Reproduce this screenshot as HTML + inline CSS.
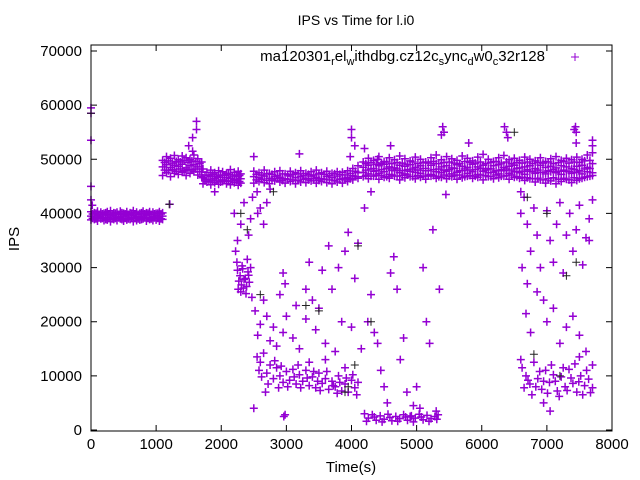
<!DOCTYPE html>
<html><head><meta charset="utf-8"><style>
html,body{margin:0;padding:0;background:#fff;}
svg{display:block;font-family:"Liberation Sans",sans-serif;}
</style></head><body>
<svg id="chart" width="640" height="480" viewBox="0 0 640 480">
<rect x="0" y="0" width="640" height="480" fill="#fff"/>
<text x="356" y="25" font-size="14" text-anchor="middle">IPS vs Time for l.i0</text>
<text x="19" y="239" font-size="15" text-anchor="middle" transform="rotate(-90 19 239)">IPS</text>
<text x="351" y="472" font-size="15" text-anchor="middle">Time(s)</text>
<g id="ticks"></g>
<g id="marks"></g>
<rect x="91" y="45" width="521" height="386" fill="none" stroke="#000" stroke-width="1"/>
<g>
<text x="545" y="61" font-size="15" text-anchor="end">ma120301<tspan font-size="11" dy="4">r</tspan><tspan dy="-4">el</tspan><tspan font-size="11" dy="4">w</tspan><tspan dy="-4">ithdbg.cz12c</tspan><tspan font-size="11" dy="4">s</tspan><tspan dy="-4">ync</tspan><tspan font-size="11" dy="4">d</tspan><tspan dy="-4">w0</tspan><tspan font-size="11" dy="4">c</tspan><tspan dy="-4">32r128</tspan></text>
<path d="M571 57h8M575 53v8" stroke="#9400d3" stroke-width="1"/>
</g>
</svg>
<script>
const xTicks=[0,1000,2000,3000,4000,5000,6000,7000,8000];
const yTicks=[0,10000,20000,30000,40000,50000,60000,70000];
const bandA_t=[0,50,100,150,200,250,300,350,400,450,500,550,600,650,700,750,800,850,900,950,1000,1050,1100];
const bandA_v1=[40300,40100,40400,40200,40000,40300,40500,40100,40200,40400,40000,40300,40100,40500,40200,40000,40400,40100,40300,40200,40000,40300,40100];
const bandA_v2=[39500,39300,39600,39400,39700,39200,39500,39600,39300,39400,39700,39500,39200,39600,39400,39300,39500,39700,39200,39400,39600,39300,39500];
const bandA_v3=[38800,38900,38600,39000,38700,38800,38500,38900,38700,39000,38600,38800,38900,38500,38700,38800,39000,38600,38900,38700,38800,38600,38900];
const bandA_t2=[25,75,125,175,225,275,325,375,425,475,525,575,625,675,725,775,825,875,925,975,1025,1075];
const bandA_v4=[39900,40000,39800,39900,40100,39800,39900,40000,39800,40100,39900,39800,40000,39900,39800,40100,39900,40000,39800,39900,40000,39900];
const bandA_v5=[39100,39000,39200,39100,38900,39200,39000,39100,39200,38900,39100,39000,39200,39100,39000,38900,39200,39100,39000,39200,39100,39000];
const bandB_t=[1100,1160,1220,1280,1340,1400,1460,1520,1580,1640,1700];
const bandB_v1=[49800,50500,50200,50700,49900,50600,50300,50000,50800,50100,49500];
const bandB_v2=[48600,49000,48500,48900,48700,49100,48400,48800,49000,48600,48200];
const bandB_v3=[47000,47500,46800,47400,47200,47600,47000,47400,47700,47100,46800];
const bandB_t2=[1130,1190,1250,1310,1370,1430,1490,1550,1610,1670];
const bandB_v4=[49400,49700,49300,49600,49500,49800,49400,49700,49600,49200];
const bandB_v5=[48000,47900,48100,47800,48200,47900,48100,48000,48200,47700];
const bandC_t=[1720,1780,1840,1900,1960,2020,2080,2140,2200,2260,2300];
const bandC_v1=[48200,47600,48000,47500,47900,47700,47400,48100,47600,47800,47300];
const bandC_v2=[46600,46300,46800,46400,46700,46200,46600,46500,46300,46800,46400];
const bandC_v3=[45500,45800,45300,45700,45400,45900,45500,45300,45700,45200,45600];
const bandC_t2=[1750,1810,1870,1930,1990,2050,2110,2170,2230,2280];
const bandC_v4=[47100,47000,47200,46900,47100,47000,47200,46900,47100,47000];
const bandC_v5=[46000,45900,46100,46000,45800,46100,45900,46000,46100,45900];
const bandD_t=[2500,2580,2660,2740,2820,2900,2980,3060,3140,3220,3300,3380,3460,3540,3620,3700,3780,3860,3940,4020,4100];
const bandD_v1=[47800,47500,48000,47400,47700,47900,47300,47800,47500,47900,47400,47700,48000,47500,47800,47400,47700,47600,47900,48300,48800];
const bandD_v2=[46800,46600,46900,46500,46800,46700,46400,46900,46600,46800,46500,46900,46700,46400,46800,46600,46900,46500,46700,47000,47500];
const bandD_v3=[45600,45900,45700,45500,46000,45800,45600,45900,45500,45800,45700,46000,45600,45900,45700,45500,45800,45600,45900,46200,46500];
const bandD_t2=[2540,2620,2700,2780,2860,2940,3020,3100,3180,3260,3340,3420,3500,3580,3660,3740,3820,3900,3980,4060];
const bandD_v4=[47200,47100,47300,47200,47000,47300,47100,47200,47300,47000,47200,47100,47300,47200,47000,47300,47200,47100,47400,47800];
const bandD_v5=[46200,46300,46100,46200,46400,46100,46300,46200,46100,46300,46200,46400,46100,46300,46200,46100,46300,46200,46400,46800];
const bandE_t=[4180,4260,4340,4420,4500,4580,4660,4740,4820,4900,4980,5060,5140,5220,5300,5380,5460,5540,5620,5700,5780,5860,5940,6020,6100,6180,6260,6340,6420,6500,6580,6660,6740,6820,6900,6980,7060,7140,7220,7300,7380,7460,7540,7620,7700];
const bandE_v1=[49500,50200,49800,50500,49600,50300,49900,50600,50100,49700,50400,50000,49500,50300,50800,49900,50500,50100,49800,50600,50200,49700,50400,50900,50000,49600,50300,50700,49900,50200,49800,50400,50000,49700,50300,49600,50100,50500,49800,50200,49900,50400,50000,50800,51200];
const bandE_v2=[48500,48900,48300,48800,49100,48600,48400,48900,48700,49000,48500,48800,48300,48900,49200,48600,48800,48400,49000,48700,48500,49100,48600,48900,48300,48800,49000,48500,48700,48900,48400,48600,48800,48300,48900,48500,48700,48400,48800,48600,48300,48700,48900,48500,49200];
const bandE_v3=[47600,47300,47800,47400,47700,47200,47900,47500,47300,47800,47600,47400,47900,47200,47700,47500,47800,47300,47600,47900,47400,47700,47200,47800,47500,47600,47300,47900,47400,47700,47500,47200,47800,47400,47600,47300,47700,47500,47200,47800,47400,47600,47300,47700,47500];
const bandE_v4=[46800,46400,46900,46300,46700,46500,46900,46200,46600,46800,46400,46700,46300,46900,46500,46700,46400,46800,46300,46600,46900,46500,46700,46200,46800,46400,46600,46900,46300,46700,46500,46100,46400,45800,46200,45600,46000,45500,45900,46300,45700,46100,46500,46800,47000];
const bandE_t2=[4220,4300,4380,4460,4540,4620,4700,4780,4860,4940,5020,5100,5180,5260,5340,5420,5500,5580,5660,5740,5820,5900,5980,6060,6140,6220,6300,6380,6460,6540,6620,6700,6780,6860,6940,7020,7100,7180,7260,7340,7420,7500,7580,7660];
const bandE_v5=[49200,49400,49100,49300,49500,49200,49400,49300,49100,49500,49200,49400,49300,49600,49200,49400,49500,49300,49200,49600,49400,49300,49500,49200,49400,49600,49300,49500,49200,49400,49300,49500,49200,49400,49300,49500,49200,49400,49600,49300,49500,49400,49700,49800];
const bandE_v6=[48000,48200,47900,48100,48300,48000,48200,47900,48100,48200,48000,48300,47900,48100,48200,48000,48100,48300,47900,48200,48000,48100,48300,48000,48200,47900,48100,48200,48000,48300,47800,48100,47700,48000,47600,47900,48100,47800,48000,47700,48100,47900,48200,48300];
const bandE_v7=[47000,46900,47100,47000,46800,47100,46900,47000,47100,46800,47000,46900,47100,47000,46800,47100,46900,47000,47100,46800,47000,46900,47100,47000,46800,47100,46900,47000,47100,46800,46700,46600,46400,46500,46200,46400,46600,46300,46500,46200,46600,46400,46700,46900];
const clusterF=[[2250,29500],[2290,28500],[2330,29800],[2370,28000],[2410,29200],[2270,27500],[2310,26800],[2350,27800],[2390,26500],[2430,27300],[2260,26000],[2300,25500],[2340,26200],[2380,25200],[2420,28600],[2450,30000],[2240,31000],[2400,31500],[2470,24500],[2320,30300]];
const clusterG=[[2550,13500],[2600,12500],[2650,14200],[2580,11000],[2700,10500],[2750,12000],[2800,9500],[2850,11500],[2900,10000],[2950,8800],[3000,10800],[3050,9200],[3100,11200],[3150,8500],[3200,10200],[3250,9000],[3300,11000],[3350,8200],[3400,9800],[3450,7800],[3500,10500],[3550,8600],[3600,9500],[3650,7500],[3700,9000],[3750,8000],[3800,10000],[3850,7200],[3900,8500],[3950,7000],[4000,9200],[4050,7800],[4100,8800],[2620,9800],[2720,8500],[2820,12800],[2920,11800],[3020,8000],[3120,9800],[3220,7800],[3320,9600],[3420,10800],[3520,7300],[3620,10800],[3720,8200],[3820,8800],[3920,9600],[4020,10200],[2980,2800],[2960,2500],[2500,4000],[3350,12500],[3600,13000],[3900,11500],[2680,7000],[2880,7800],[3180,12000],[3480,9000],[3780,6800],[4080,6500]];
const clusterH=[[4200,3000],[4260,2200],[4320,2800],[4380,1800],[4440,2600],[4500,2000],[4560,2900],[4620,1700],[4680,2500],[4740,2100],[4800,2800],[4860,1800],[4920,2600],[4980,2200],[5040,2900],[5100,1900],[5160,2700],[5220,2100],[5280,2500],[5330,2800],[4230,1600],[4350,2400],[4470,1500],[4590,2300],[4710,1600],[4830,2400],[4950,1500],[5070,2400],[5190,1600],[5310,2000]];
const clusterI=[[6620,11500],[6680,10000],[6740,8500],[6800,12500],[6860,9500],[6920,7500],[6980,11000],[7040,8800],[7100,10200],[7160,7200],[7220,9800],[7280,8000],[7340,11200],[7400,8600],[7460,7000],[7520,10000],[7580,8200],[7640,9400],[7700,7800],[6650,7800],[6710,9200],[6770,6500],[6830,8000],[6890,10800],[6950,9000],[7010,6800],[7070,12000],[7130,9000],[7190,6200],[7250,11500],[7310,7300],[7370,9600],[7430,12200],[7490,8900],[7550,6500],[7610,11000],[7670,6900],[6600,13000],[7050,3500],[6950,5000],[7500,13500],[7700,12000]];
const scatter=[[0,58500],[0,59500],[0,53500],[0,45000],[0,42500],[20,41500],[1210,41700],[1500,52500],[1560,54000],[1620,57000],[1620,55500],[1560,51500],[2200,40000],[2250,35000],[2220,33000],[2300,38000],[2350,42000],[2420,36000],[2450,39000],[2480,43000],[2550,44000],[2600,41000],[2650,38000],[2700,42000],[2750,44500],[2560,40000],[2520,22000],[2600,19500],[2560,17500],[2650,24000],[2700,21000],[2750,16500],[2800,19000],[2850,15500],[2900,25000],[2950,29000],[2980,27000],[2950,18000],[3000,21000],[3100,17000],[3150,23000],[3200,15000],[3300,20500],[3350,31000],[3400,24000],[3450,18500],[3500,22500],[3550,29500],[3600,16000],[3650,34000],[3700,26000],[3750,14500],[3800,30000],[3850,20000],[3900,33000],[3950,36500],[4000,19000],[4050,28000],[4100,34500],[4150,15000],[4200,41000],[4250,20000],[4300,25000],[4350,18000],[4400,16000],[4450,11000],[4500,8000],[4550,5000],[4600,29000],[4650,32000],[4700,26000],[4750,13000],[4800,17000],[4850,7000],[4900,2500],[5000,8000],[5050,4000],[5100,30000],[5150,20000],[5200,16000],[5250,37000],[5300,3500],[5350,26000],[3300,26000],[4950,4500],[6600,40000],[6620,30000],[6650,43000],[6700,38000],[6750,33000],[6800,41000],[6850,36000],[6900,30000],[6950,24000],[7000,40500],[7050,35000],[7100,31000],[7150,38000],[7200,42000],[7250,29000],[7300,36000],[7350,40000],[7400,33000],[7450,37000],[7500,41500],[7550,30500],[7600,35500],[7650,39000],[7700,42500],[6680,21500],[6750,18000],[6850,25500],[7000,20000],[7100,22500],[7200,16000],[7300,19000],[7400,21000],[7500,17500],[7600,14500],[6700,27000],[7650,35000],[4000,55500],[4000,54000],[4050,52500],[3980,50500],[5400,56000],[5420,55000],[5380,54500],[6350,56000],[6380,55000],[6400,54000],[7420,55500],[7440,56000],[7450,55000],[7450,53000],[7700,53500],[7700,52500],[4200,52000],[4600,52500],[5800,53000],[3200,51000],[2500,50500],[1900,44000],[5450,43500],[4400,50000],[4300,44000],[6600,44000]];
const blackPts=[[2300,40000],[2400,37000],[2800,44000],[3500,22000],[4100,34000],[4300,20000],[1200,41700],[6700,43000],[7000,40000],[7300,28500],[7450,31000],[2600,25000],[3300,23000],[3950,8000],[4050,12000],[0,58500],[6800,14000],[7200,10000],[3900,7000],[6500,55000]];

const NS='http://www.w3.org/2000/svg';
const X0=91,X1=612,Y0=430,Y70=51;
function xs(t){return X0+t*(X1-X0)/8000;}
function ys(v){return Y0-v*(Y0-Y70)/70000;}
function plus(t,v){const x=xs(t),y=ys(v);return 'M'+(x-4).toFixed(1)+' '+y.toFixed(1)+'h8M'+x.toFixed(1)+' '+(y-4).toFixed(1)+'v8';}

const tg=document.getElementById('ticks');
let td='';
xTicks.forEach(t=>{
  const x=xs(t);
  td+='M'+x+' 431v-6M'+x+' 45v6';
  const tx=document.createElementNS(NS,'text');
  tx.setAttribute('x',x);tx.setAttribute('y',449);tx.setAttribute('font-size','15');tx.setAttribute('text-anchor','middle');
  tx.textContent=t;
  
  
  tg.appendChild(tx);
});
yTicks.forEach(v=>{
  const y=ys(v);
  td+='M91 '+y+'h6M612 '+y+'h-6';
  const tx=document.createElementNS(NS,'text');
  tx.setAttribute('x',82);tx.setAttribute('y',y+5);tx.setAttribute('font-size','15');tx.setAttribute('text-anchor','end');
  tx.textContent=v;
  
  
  tg.appendChild(tx);
});
const tp=document.createElementNS(NS,'path');
tp.setAttribute('d',td);tp.setAttribute('stroke','#000');tp.setAttribute('fill','none');


tg.appendChild(tp);

let pd='';
function addRow(ts,vs){for(let i=0;i<Math.min(ts.length,vs.length);i++)pd+=plus(ts[i],vs[i]);}
function addPairs(arr){arr.forEach(p=>{pd+=plus(p[0],p[1]);});}
addRow(bandA_t,bandA_v1);addRow(bandA_t,bandA_v2);addRow(bandA_t,bandA_v3);addRow(bandA_t2,bandA_v4);addRow(bandA_t2,bandA_v5);
addRow(bandB_t,bandB_v1);addRow(bandB_t,bandB_v2);addRow(bandB_t,bandB_v3);addRow(bandB_t2,bandB_v4);addRow(bandB_t2,bandB_v5);
addRow(bandC_t,bandC_v1);addRow(bandC_t,bandC_v2);addRow(bandC_t,bandC_v3);addRow(bandC_t2,bandC_v4);addRow(bandC_t2,bandC_v5);
addRow(bandD_t,bandD_v1);addRow(bandD_t,bandD_v2);addRow(bandD_t,bandD_v3);addRow(bandD_t2,bandD_v4);addRow(bandD_t2,bandD_v5);
addRow(bandE_t,bandE_v1);addRow(bandE_t,bandE_v2);addRow(bandE_t,bandE_v3);addRow(bandE_t,bandE_v4);
addRow(bandE_t2,bandE_v5);addRow(bandE_t2,bandE_v6);addRow(bandE_t2,bandE_v7);
addPairs(clusterF);addPairs(clusterG);addPairs(clusterH);addPairs(clusterI);addPairs(scatter);
const mg=document.getElementById('marks');
const mp=document.createElementNS(NS,'path');
mp.setAttribute('d',pd);mp.setAttribute('stroke','#9400d3');mp.setAttribute('stroke-width','1.5');mp.setAttribute('fill','none');


mg.appendChild(mp);
let bd='';
blackPts.forEach(p=>{bd+=plus(p[0],p[1]);});
const bp=document.createElementNS(NS,'path');
bp.setAttribute('d',bd);bp.setAttribute('stroke','#222');bp.setAttribute('stroke-width','1');bp.setAttribute('fill','none');


mg.appendChild(bp);
</script>
</body></html>
